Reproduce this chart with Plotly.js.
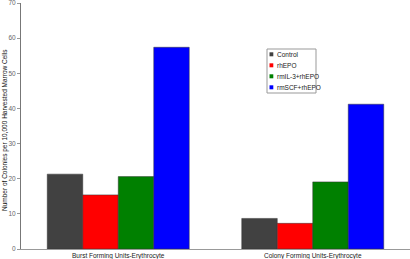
<!DOCTYPE html>
<html>
<head>
<meta charset="utf-8">
<script src="https://cdn.plot.ly/plotly-3.0.1.min.js"></script>
<style>html,body{margin:0;padding:0;background:#fff;}#chart{width:410px;height:259px;}</style>
</head>
<body>
<div id="chart"></div>
<script>
const categories = ["Burst Forming Units-Erythrocyte", "Colony Forming Units-Erythrocyte"];
const seriesNames = ["Control", "rhEPO", "rmIL-3+rhEPO", "rmSCF+rhEPO"];
const seriesColors = ["#414141", "#ff0000", "#008000", "#0000ff"];
const controlValues = [21.3, 8.7];
const rhEPOValues = [15.4, 7.3];
const rmIL3Values = [20.6, 19.1];
const rmSCFValues = [57.4, 41.2];
const yTicks = [0, 10, 20, 30, 40, 50, 60, 70];
const yTitle = "Number of Colonies per 10,000 Harvested Marrow Cells";

const seriesValues = [controlValues, rhEPOValues, rmIL3Values, rmSCFValues];
const font = "Liberation Sans, Arial, sans-serif";

const traces = seriesNames.map((name, i) => ({
  type: "bar",
  name: name,
  x: categories,
  y: seriesValues[i],
  marker: {color: seriesColors[i], line: {color: "#333", width: 0.5}},
  hoverinfo: "none"
}));

const pxX = p => (p - 21) / 389;
const pxY = p => (249 - p) / 246;
const shapes = [{
  type: "rect", xref: "paper", yref: "paper",
  x0: pxX(267), x1: pxX(316), y0: pxY(93), y1: pxY(49),
  line: {color: "#999", width: 1}, fillcolor: "rgba(0,0,0,0)"
}];
const annotations = [{
  xref: "paper", yref: "paper", x: pxX(5), y: pxY(130),
  xanchor: "center", yanchor: "middle", showarrow: false, textangle: -90,
  text: yTitle, font: {family: font, size: 6.5, color: "#111"}
}];
seriesNames.forEach((name, i) => {
  const cy = 54.3 + i * 11;
  shapes.push({
    type: "rect", xref: "paper", yref: "paper",
    x0: pxX(269.5), x1: pxX(273.3), y0: pxY(cy + 2), y1: pxY(cy - 2),
    line: {width: 0}, fillcolor: seriesColors[i]
  });
  annotations.push({
    xref: "paper", yref: "paper", x: pxX(275), y: pxY(cy),
    xanchor: "left", yanchor: "middle", showarrow: false,
    text: name, font: {family: font, size: 6.5, color: "#222"}
  });
});

const layout = {
  width: 410, height: 259,
  margin: {l: 21, r: 0, t: 3, b: 10},
  paper_bgcolor: "#fff", plot_bgcolor: "#fff",
  barmode: "group", bargap: 0.27, bargroupgap: 0,
  showlegend: false,
  font: {family: font, size: 6.5, color: "#333"},
  xaxis: {
    showgrid: false, zeroline: false, showline: true, linecolor: "#999", linewidth: 1,
    ticks: "", tickfont: {family: font, size: 6.5, color: "#222"},
    range: [-0.5, 1.5], ticklabeloverflow: "allow"
  },
  yaxis: {
    range: [0, 70], tickvals: yTicks, showgrid: false, zeroline: false,
    showline: true, linecolor: "#777", linewidth: 1,
    ticks: "outside", ticklen: 3, tickcolor: "#999",
    tickfont: {family: font, size: 6.5, color: "#666"},
    ticklabeloverflow: "allow"
  },
  shapes: shapes,
  annotations: annotations
};

Plotly.newPlot("chart", traces, layout, {displayModeBar: false, staticPlot: true});
</script>
</body>
</html>
